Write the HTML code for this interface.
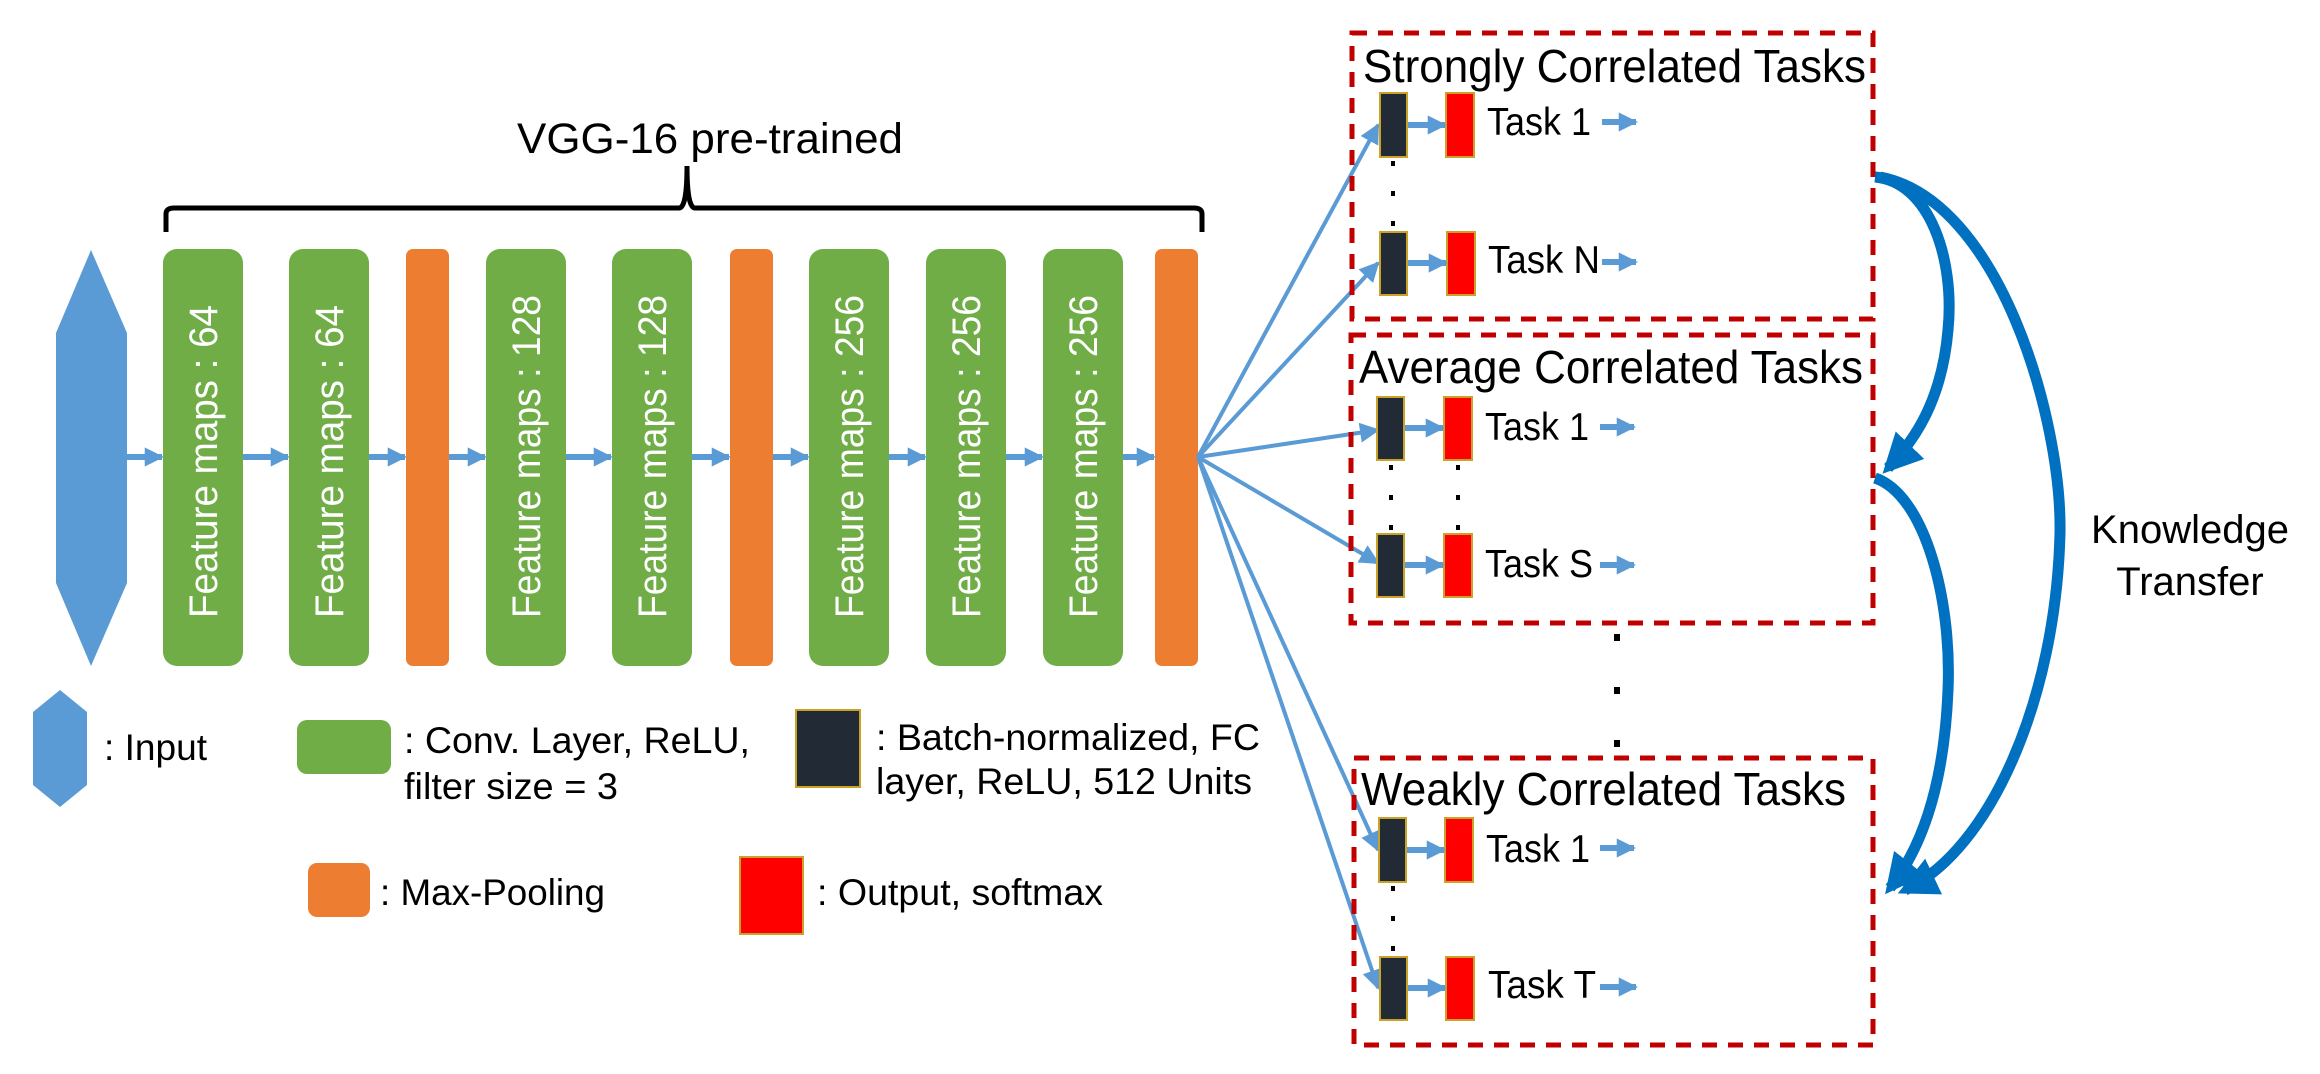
<!DOCTYPE html>
<html><head><meta charset="utf-8"><style>
html,body{margin:0;padding:0;background:#fff;}
svg{display:block;}
text{font-family:"Liberation Sans",Arial,sans-serif;}
</style></head><body>
<svg width="2320" height="1074" viewBox="0 0 2320 1074" xmlns="http://www.w3.org/2000/svg">
<defs>
<marker id="ah" viewBox="0 0 10 10" refX="9" refY="5" markerWidth="3.2" markerHeight="3.2" orient="auto" markerUnits="strokeWidth">
<path d="M0,0 L10,5 L0,10 z" fill="#5b9bd5"/></marker>
<marker id="ah2" viewBox="0 0 10 10" refX="9" refY="5" markerWidth="5" markerHeight="5" orient="auto" markerUnits="strokeWidth">
<path d="M0,0 L10,5 L0,10 z" fill="#5b9bd5"/></marker>
<marker id="kh" viewBox="0 0 10 10" refX="8" refY="5" markerWidth="3.6" markerHeight="3.6" orient="auto" markerUnits="strokeWidth">
<path d="M0,0 L10,5 L0,10 z" fill="#0070c0"/></marker>
</defs>

<!-- title & brace -->
<text x="517" y="153" font-size="43" textLength="386" lengthAdjust="spacingAndGlyphs">VGG-16 pre-trained</text>
<path d="M166,232 L166,214 Q166,208 174,208 L679,208 Q687,208 687,166 Q687,208 695,208 L1194,208 Q1202,208 1202,214 L1202,232" fill="none" stroke="#000" stroke-width="5"/>

<!-- input -->
<polygon points="91,250 127,333 127,583 91,666 56,583 56,333" fill="#5b9bd5"/>

<!-- boxes -->
<g fill="#70ad47">
<rect x="163" y="249" width="80" height="417" rx="14"/>
<rect x="289" y="249" width="80" height="417" rx="14"/>
<rect x="486" y="249" width="80" height="417" rx="14"/>
<rect x="612" y="249" width="80" height="417" rx="14"/>
<rect x="809" y="249" width="80" height="417" rx="14"/>
<rect x="926" y="249" width="80" height="417" rx="14"/>
<rect x="1043" y="249" width="80" height="417" rx="14"/>
</g>
<g fill="#ed7d31">
<rect x="406" y="249" width="43" height="417" rx="7"/>
<rect x="730" y="249" width="43" height="417" rx="7"/>
<rect x="1155" y="249" width="43" height="417" rx="7"/>
</g>
<g fill="#fff" font-size="40">
<text transform="translate(217,618) rotate(-90)" textLength="313" lengthAdjust="spacingAndGlyphs">Feature maps : 64</text>
<text transform="translate(343,618) rotate(-90)" textLength="313" lengthAdjust="spacingAndGlyphs">Feature maps : 64</text>
<text transform="translate(540,618) rotate(-90)" textLength="323" lengthAdjust="spacingAndGlyphs">Feature maps : 128</text>
<text transform="translate(666,618) rotate(-90)" textLength="323" lengthAdjust="spacingAndGlyphs">Feature maps : 128</text>
<text transform="translate(863,618) rotate(-90)" textLength="323" lengthAdjust="spacingAndGlyphs">Feature maps : 256</text>
<text transform="translate(980,618) rotate(-90)" textLength="323" lengthAdjust="spacingAndGlyphs">Feature maps : 256</text>
<text transform="translate(1097,618) rotate(-90)" textLength="323" lengthAdjust="spacingAndGlyphs">Feature maps : 256</text>
</g>

<!-- chain arrows -->
<g stroke="#5b9bd5" stroke-width="6" marker-end="url(#ah)">
<line x1="127" y1="457" x2="162" y2="457"/>
<line x1="243" y1="457" x2="288" y2="457"/>
<line x1="369" y1="457" x2="405" y2="457"/>
<line x1="449" y1="457" x2="485" y2="457"/>
<line x1="566" y1="457" x2="611" y2="457"/>
<line x1="692" y1="457" x2="729" y2="457"/>
<line x1="773" y1="457" x2="808" y2="457"/>
<line x1="889" y1="457" x2="925" y2="457"/>
<line x1="1006" y1="457" x2="1042" y2="457"/>
<line x1="1123" y1="457" x2="1154" y2="457"/>
</g>

<!-- fan lines -->
<g stroke="#5b9bd5" stroke-width="4" fill="none" marker-end="url(#ah2)">
<line x1="1198" y1="457" x2="1378" y2="125"/>
<line x1="1198" y1="457" x2="1378" y2="263"/>
<line x1="1198" y1="457" x2="1378" y2="430"/>
<line x1="1198" y1="457" x2="1378" y2="563"/>
<line x1="1198" y1="457" x2="1378" y2="850"/>
<line x1="1198" y1="457" x2="1378" y2="988"/>
</g>

<!-- dashed boxes -->
<g fill="none" stroke="#c00000" stroke-width="5" stroke-dasharray="15 11">
<rect x="1352" y="33" width="521" height="286"/>
<rect x="1351" y="335" width="522" height="288"/>
<rect x="1354" y="758" width="519" height="287"/>
</g>
<g font-size="46">
<text x="1363" y="82" textLength="503" lengthAdjust="spacingAndGlyphs">Strongly Correlated Tasks</text>
<text x="1359" y="383" textLength="504" lengthAdjust="spacingAndGlyphs">Average Correlated Tasks</text>
<text x="1361" y="805" textLength="485" lengthAdjust="spacingAndGlyphs">Weakly Correlated Tasks</text>
</g>

<!-- task rows -->
<g stroke="#c9a227" stroke-width="2">
<rect x="1380" y="93" width="27" height="64" fill="#222a35"/><rect x="1446" y="93" width="28" height="64" fill="#ff0000"/>
<rect x="1380" y="232" width="27" height="63" fill="#222a35"/><rect x="1447" y="232" width="28" height="63" fill="#ff0000"/>
<rect x="1377" y="397" width="27" height="63" fill="#222a35"/><rect x="1444" y="397" width="28" height="63" fill="#ff0000"/>
<rect x="1377" y="534" width="27" height="63" fill="#222a35"/><rect x="1444" y="534" width="28" height="63" fill="#ff0000"/>
<rect x="1379" y="818" width="27" height="64" fill="#222a35"/><rect x="1445" y="818" width="28" height="64" fill="#ff0000"/>
<rect x="1380" y="957" width="27" height="63" fill="#222a35"/><rect x="1446" y="957" width="28" height="63" fill="#ff0000"/>
</g>
<g stroke="#5b9bd5" stroke-width="6" marker-end="url(#ah)">
<line x1="1408" y1="125" x2="1445" y2="125"/>
<line x1="1408" y1="263" x2="1446" y2="263"/>
<line x1="1405" y1="428" x2="1443" y2="428"/>
<line x1="1405" y1="565" x2="1443" y2="565"/>
<line x1="1407" y1="850" x2="1444" y2="850"/>
<line x1="1408" y1="988" x2="1445" y2="988"/>
<line x1="1602" y1="122" x2="1636" y2="122"/>
<line x1="1602" y1="262" x2="1636" y2="262"/>
<line x1="1600" y1="427" x2="1634" y2="427"/>
<line x1="1600" y1="565" x2="1634" y2="565"/>
<line x1="1600" y1="848" x2="1634" y2="848"/>
<line x1="1600" y1="987" x2="1636" y2="987"/>
</g>
<g font-size="39">
<text x="1487" y="135" textLength="104" lengthAdjust="spacingAndGlyphs">Task 1</text>
<text x="1488" y="273" textLength="112" lengthAdjust="spacingAndGlyphs">Task N</text>
<text x="1485" y="440" textLength="104" lengthAdjust="spacingAndGlyphs">Task 1</text>
<text x="1485" y="577" textLength="108" lengthAdjust="spacingAndGlyphs">Task S</text>
<text x="1486" y="862" textLength="104" lengthAdjust="spacingAndGlyphs">Task 1</text>
<text x="1488" y="998" textLength="108" lengthAdjust="spacingAndGlyphs">Task T</text>
</g>
<g fill="#000">
<rect x="1391" y="161" width="4" height="5"/><rect x="1391" y="191" width="4" height="5"/><rect x="1391" y="221" width="4" height="5"/>
<rect x="1389" y="465" width="4" height="5"/><rect x="1389" y="495" width="4" height="5"/><rect x="1389" y="525" width="4" height="5"/>
<rect x="1456" y="465" width="4" height="5"/><rect x="1456" y="495" width="4" height="5"/><rect x="1456" y="525" width="4" height="5"/>
<rect x="1391" y="886" width="4" height="5"/><rect x="1391" y="916" width="4" height="5"/><rect x="1391" y="946" width="4" height="5"/>
<rect x="1614" y="634" width="6" height="7"/><rect x="1614" y="687" width="6" height="7"/><rect x="1614" y="740" width="6" height="7"/>
</g>

<!-- knowledge transfer -->
<g fill="none" stroke="#0070c0" stroke-width="11">
<path d="M1875,177 C1930,182 1955,260 1948,330 C1942,400 1915,440 1888,468" marker-end="url(#kh)"/>
<path d="M1875,478 C1925,495 1952,600 1948,690 C1944,790 1920,850 1890,888" marker-end="url(#kh)"/>
<path d="M1880,177 C2000,200 2062,420 2060,533 C2056,700 1990,850 1905,890" marker-end="url(#kh)"/>
</g>
<g font-size="40" text-anchor="middle">
<text x="2190" y="543">Knowledge</text>
<text x="2190" y="595">Transfer</text>
</g>

<!-- legend -->
<polygon points="60,690 87,712 87,785 60,807 33,785 33,712" fill="#5b9bd5"/>
<rect x="297" y="720" width="94" height="54" rx="10" fill="#70ad47"/>
<rect x="796" y="710" width="64" height="77" fill="#222a35" stroke="#c9a227" stroke-width="2"/>
<rect x="308" y="863" width="62" height="54" rx="9" fill="#ed7d31"/>
<rect x="740" y="857" width="63" height="77" fill="#ff0000" stroke="#c9a227" stroke-width="2"/>
<g font-size="37">
<text x="104" y="760" textLength="103" lengthAdjust="spacingAndGlyphs">: Input</text>
<text x="404" y="753" textLength="346" lengthAdjust="spacingAndGlyphs">: Conv. Layer, ReLU,</text>
<text x="404" y="799" textLength="214" lengthAdjust="spacingAndGlyphs">filter size = 3</text>
<text x="876" y="750" textLength="384" lengthAdjust="spacingAndGlyphs">: Batch-normalized, FC</text>
<text x="876" y="794" textLength="376" lengthAdjust="spacingAndGlyphs">layer, ReLU, 512 Units</text>
<text x="380" y="905" textLength="225" lengthAdjust="spacingAndGlyphs">: Max-Pooling</text>
<text x="817" y="905" textLength="286" lengthAdjust="spacingAndGlyphs">: Output, softmax</text>
</g>
</svg>
</body></html>
